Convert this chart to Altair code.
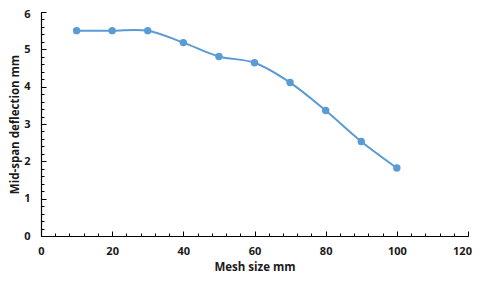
import altair as alt
import pandas as pd

mesh_size = [10, 20, 30, 40, 50, 60, 70, 80, 90, 100]
deflection = [5.50, 5.50, 5.50, 5.18, 4.81, 4.64, 4.11, 3.36, 2.53, 1.82]

x_major = [0, 20, 40, 60, 80, 100, 120]
x_minor = list(range(0, 121, 4))
y_major = [0, 1, 2, 3, 4, 5, 6]
y_minor = [round(i * 0.2, 1) for i in range(31)]

df = pd.DataFrame({"x": mesh_size, "y": deflection})

W, H = 427, 224
FONT = "Open Sans"
BLUE = "#5B9BD5"
TXT = "#1a1a1a"

xs = alt.Scale(domain=[0, 120], nice=False)
ys = alt.Scale(domain=[0, 6], nice=False)

base = alt.Chart(df)

line = base.mark_line(interpolate="catmull-rom", color=BLUE, strokeWidth=2).encode(
    x=alt.X("x:Q", scale=xs, axis=alt.Axis(
        values=x_major, title="Mesh size mm", orient="bottom", ticks=False,
        labelFlush=False, labelPadding=9, titlePadding=5,
        labelOffset=alt.ExprRef(expr="datum.value == 120 ? -6 : 0"),
        domainColor="#000000", domainWidth=1.2, grid=False)),
    y=alt.Y("y:Q", scale=ys, axis=alt.Axis(
        values=y_major, title="Mid-span deflection mm", orient="left", ticks=False,
        labelFlush=False, labelPadding=11, titlePadding=3,
        labelOffset=alt.ExprRef(expr="datum.value == 6 ? 2 : 0"),
        domainColor="#000000", domainWidth=1.2, grid=False)),
)

points = base.mark_circle(color=BLUE, size=55, opacity=1).encode(
    x=alt.X("x:Q", scale=xs, axis=None),
    y=alt.Y("y:Q", scale=ys, axis=None),
)

minor_ticks = base.mark_point(opacity=0).encode(
    x=alt.X("x:Q", scale=xs, axis=alt.Axis(
        values=x_minor, orient="top", offset=-H, labels=False, domain=False,
        tickSize=3, tickColor="#000000", title=None, grid=False)),
    y=alt.Y("y:Q", scale=ys, axis=alt.Axis(
        values=y_minor, orient="right", offset=-W, labels=False, domain=False,
        tickSize=3, tickColor="#000000", title=None, grid=False)),
)

major_ticks = base.mark_point(opacity=0).encode(
    x=alt.X("x:Q", scale=xs, axis=alt.Axis(
        values=x_major, orient="top", offset=-H, labels=False, domain=False,
        tickSize=5, tickColor="#000000", title=None, grid=False)),
    y=alt.Y("y:Q", scale=ys, axis=alt.Axis(
        values=y_major, orient="right", offset=-W, labels=False, domain=False,
        tickSize=5, tickColor="#000000", title=None, grid=False)),
)

chart = alt.layer(line, points, minor_ticks, major_ticks).resolve_axis(
    x="independent", y="independent"
).properties(
    width=W, height=H,
    autosize=alt.AutoSizeParams(type="none"),
    padding={"left": 33, "top": 4, "right": 4, "bottom": 38},
).configure_axis(
    labelFont=FONT, titleFont=FONT, labelFontWeight="bold", titleFontWeight="bold",
    labelFontSize=11, titleFontSize=11.5, labelColor=TXT, titleColor=TXT,
).configure_view(stroke=None)

chart.save("out.html", embed_options={"renderer": "svg", "actions": False})
